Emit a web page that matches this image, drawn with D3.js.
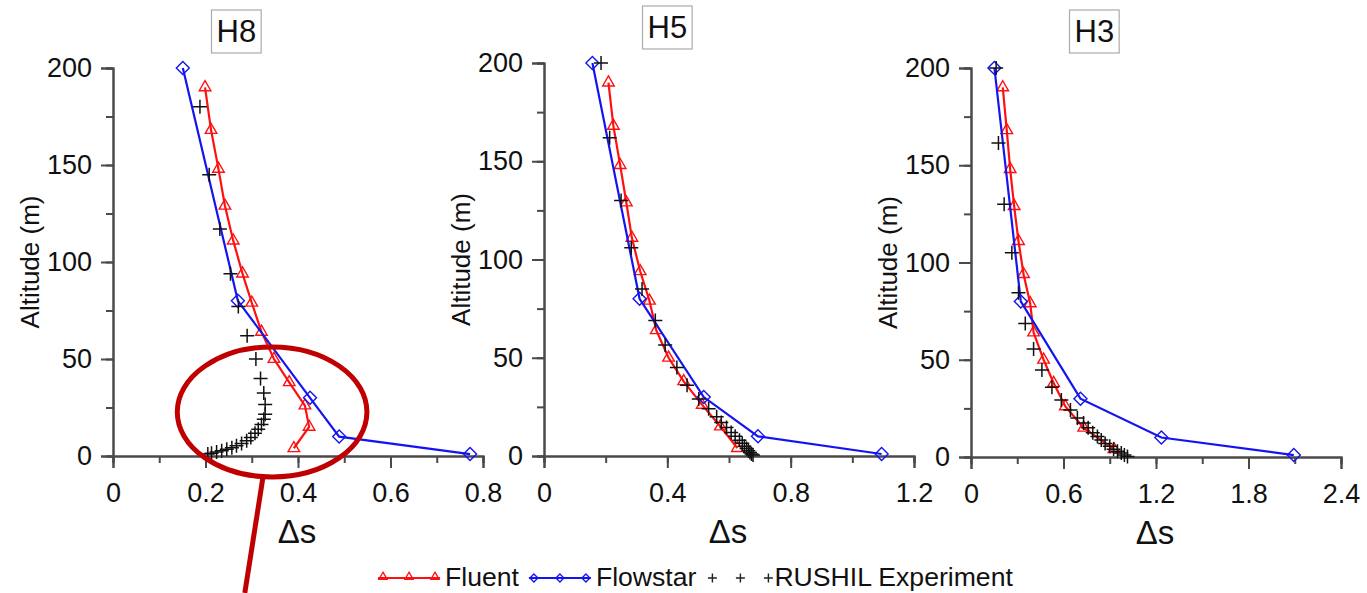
<!DOCTYPE html>
<html>
<head>
<meta charset="utf-8">
<script src="https://cdn.jsdelivr.net/npm/d3@7"></script>
<style>
  body { margin: 0; background: #fff; }
  svg { display: block; font-family: "Liberation Sans", Arial, sans-serif; }
</style>
</head>
<body>
<svg id="chart" width="1367" height="593"></svg>
<script>
// ---- data ----
const panelNames = ["H8", "H5", "H3"];
const xMax = [0.8, 1.2, 2.4];
const xMajor = [0.2, 0.4, 0.6];

// Fluent (CFD) altitudes, same for every tower
const fluentAlt = [190, 168, 148, 129, 111, 94, 79, 64, 50, 38, 26, 15, 4];
const fluentH8 = [0.199, 0.212, 0.228, 0.242, 0.26, 0.28, 0.30, 0.321, 0.348, 0.381, 0.415, 0.424, 0.391];
const fluentH5 = [0.209, 0.225, 0.247, 0.267, 0.285, 0.312, 0.342, 0.364, 0.404, 0.453, 0.513, 0.572, 0.627];
const fluentH3 = [0.206, 0.232, 0.254, 0.28, 0.308, 0.341, 0.384, 0.406, 0.471, 0.536, 0.612, 0.731, 0.927];

// Flowstar
const flowAlt = [200, 80, 30, 10, 1];
const flowH8 = [0.151, 0.27, 0.426, 0.489, 0.772];
const flowH5 = [0.157, 0.31, 0.518, 0.694, 1.095];
const flowH3 = [0.152, 0.323, 0.71, 1.235, 2.094];

// RUSHIL experiment
const expAltH8 = [180, 145, 117, 94, 77, 62, 50, 40, 32.5, 26.5, 21.5, 19, 16.3, 13.8, 11.7, 9.6, 7.9, 6.5, 5.3, 4.3, 3.5, 2.7, 2.1, 1.4, 1];
const expH8 = [0.188, 0.208, 0.231, 0.254, 0.271, 0.29, 0.309, 0.319, 0.326, 0.329, 0.329, 0.326, 0.321, 0.314, 0.307, 0.298, 0.289, 0.278, 0.267, 0.257, 0.246, 0.235, 0.224, 0.213, 0.205];
const expAltH5 = [200, 162, 130, 106, 85, 69, 56.5, 45, 36, 29, 24, 20, 17, 14.5, 12, 10, 8, 6.5, 5, 3.8, 2.7, 1.8, 1, 0.5];
const expH5 = [0.185, 0.213, 0.25, 0.283, 0.318, 0.361, 0.393, 0.431, 0.464, 0.502, 0.534, 0.56, 0.575, 0.592, 0.607, 0.62, 0.634, 0.643, 0.65, 0.657, 0.663, 0.668, 0.673, 0.678];
const expAltH3 = [200, 161.5, 130, 105, 84.5, 68.7, 55.5, 44.7, 35.8, 29.3, 24.2, 20, 17.5, 15, 12.5, 10.5, 8.7, 7, 5.5, 4, 3, 2, 1, 0.3];
const expH3 = [0.163, 0.178, 0.215, 0.265, 0.308, 0.352, 0.406, 0.46, 0.525, 0.586, 0.645, 0.69, 0.73, 0.76, 0.79, 0.82, 0.845, 0.87, 0.9, 0.925, 0.95, 0.975, 0.995, 1.015];

const legendLabels = ["Fluent", "Flowstar", "RUSHIL Experiment"];

// ---- layout ----
const PANEL_X = [113, 544, 971], PANEL_W = 370;
const PANEL_TOP = [68, 63, 68], PANEL_BOT = [456, 456, 457];
const TITLE_Y = [10, 6, 10];
const RED = "#ff1010", BLUE = "#1414f0", AXIS = "#4a4a4a", ANNOT = "#c00000";

const svg = d3.select("#chart");

const fluentX = [fluentH8, fluentH5, fluentH3];
const flowX = [flowH8, flowH5, flowH3];
const expX = [expH8, expH5, expH3];
const expAlt = [expAltH8, expAltH5, expAltH3];

const tri = d3.symbol().type(d3.symbolTriangle).size(58);
const diamond = "M0,-6.5L6.5,0L0,6.5L-6.5,0Z";
const plus = a => `M${-a},0H${a}M0,${-a}V${a}`;

let scalesH8 = null;

panelNames.forEach((name, p) =>
{
  let x = d3.scaleLinear().domain([0, xMax[p]]).range([PANEL_X[p], PANEL_X[p] + PANEL_W]);
  let y = d3.scaleLinear().domain([0, 200]).range([PANEL_BOT[p], PANEL_TOP[p]]);
  if (p === 0) scalesH8 = { x, y };
  let g = svg.append("g");

  // axes: minor ticks first, then majors with labels
  let xMinor = d3.range(0, xMax[p] + 1e-9, xMajor[p] / 2);
  let xMajorT = d3.range(0, xMax[p] + 1e-9, xMajor[p]);
  let fmt = d => d === 0 ? "0" : d3.format(".1f")(d);

  g.append("g").attr("transform", `translate(0,${y(0)})`)
      .call(d3.axisBottom(x).tickValues(xMinor).tickSize(7).tickFormat(""));
  g.append("g").attr("transform", `translate(0,${y(0)})`)
      .call(d3.axisBottom(x).tickValues(xMajorT).tickSize(12).tickPadding(15).tickFormat(fmt));
  g.append("g").attr("transform", `translate(${x(0)},0)`)
      .call(d3.axisLeft(y).tickValues(d3.range(0, 201, 25)).tickSize(7).tickFormat(""));
  g.append("g").attr("transform", `translate(${x(0)},0)`)
      .call(d3.axisLeft(y).tickValues(d3.range(0, 201, 50)).tickSize(12).tickPadding(9));

  g.selectAll(".domain").attr("stroke", AXIS).attr("stroke-width", 2);
  g.selectAll(".tick line").attr("stroke", AXIS).attr("stroke-width", 2);
  g.selectAll(".tick text").attr("font-size", 27).attr("fill", "#111")
      .attr("font-family", "Liberation Sans, Arial, sans-serif");

  // axis titles
  g.append("text")
      .attr("transform", `translate(${x(0) - 83},${(y(0) + y(200)) / 2}) rotate(-90)`)
      .attr("text-anchor", "middle").attr("dy", "0.36em")
      .attr("font-size", 26).attr("fill", "#111")
      .text("Altitude (m)");
  g.append("text")
      .attr("x", x(xMax[p] / 2) - 1).attr("y", y(0) + 87)
      .attr("text-anchor", "middle").attr("font-size", 33).attr("fill", "#111")
      .text("\u0394s");

  // title box
  let tx = x(xMax[p] / 3);
  let bg = g.append("rect");
  let tt = g.append("text").attr("x", tx).attr("y", TITLE_Y[p] + 32)
      .attr("text-anchor", "middle").attr("font-size", 31).attr("fill", "#111").text(name);
  let bw = tt.node().getComputedTextLength() + 10;
  bg.attr("x", tx - bw / 2).attr("y", TITLE_Y[p]).attr("width", bw).attr("height", 43)
      .attr("fill", "#fff").attr("stroke", "#aaa").attr("stroke-width", 1.2);

  // series
  let line = d3.line().x(d => x(d[0])).y(d => y(d[1]));
  let fl = fluentX[p].map((v, i) => [v, fluentAlt[i]]);
  let fw = flowX[p].map((v, i) => [v, flowAlt[i]]);
  let ex = expX[p].map((v, i) => [v, expAlt[p][i]]);

  g.append("path").attr("d", line(fl)).attr("fill", "none").attr("stroke", RED).attr("stroke-width", 2.2);
  g.selectAll(".tri").data(fl).enter().append("path")
      .attr("d", tri).attr("transform", d => `translate(${x(d[0])},${y(d[1])})`)
      .attr("fill", "none").attr("stroke", RED).attr("stroke-width", 1.4);

  g.append("path").attr("d", line(fw)).attr("fill", "none").attr("stroke", BLUE).attr("stroke-width", 2.2);
  g.selectAll(".dia").data(fw).enter().append("path")
      .attr("d", diamond).attr("transform", d => `translate(${x(d[0])},${y(d[1])})`)
      .attr("fill", "none").attr("stroke", BLUE).attr("stroke-width", 1.4);

  g.selectAll(".plus").data(ex).enter().append("path")
      .attr("d", plus(7)).attr("transform", d => `translate(${x(d[0])},${y(d[1])})`)
      .attr("fill", "none").attr("stroke", "#111").attr("stroke-width", 1.5);
});

// ---- annotation on H8 (ellipse + pointer line) ----
{
  let { x, y } = scalesH8;
  let cx = 0.344, cy = 22.7, rxD = 0.205, ryD = 33.5;
  svg.append("ellipse")
      .attr("cx", x(cx)).attr("cy", y(cy))
      .attr("rx", x(rxD) - x(0)).attr("ry", y(0) - y(ryD))
      .attr("fill", "none").attr("stroke", ANNOT).attr("stroke-width", 5);
  svg.append("line")
      .attr("x1", x(0.324)).attr("y1", y(-11.3))
      .attr("x2", x(0.285)).attr("y2", y(-70.6))
      .attr("stroke", ANNOT).attr("stroke-width", 5);
}

// ---- legend ----
{
  let lg = svg.append("g").attr("font-size", 26.6).attr("fill", "#111");
  let ly = 578, base = 586, cur = 378;
  const segLen = 62;

  // Fluent
  lg.append("line").attr("x1", cur).attr("x2", cur + segLen).attr("y1", ly).attr("y2", ly)
      .attr("stroke", RED).attr("stroke-width", 2.2);
  [0, 0.5, 1].forEach(f => lg.append("path")
      .attr("d", d3.symbol().type(d3.symbolTriangle).size(30))
      .attr("transform", `translate(${cur + 5 + f * (segLen - 10)},${ly - 1})`)
      .attr("fill", "none").attr("stroke", RED).attr("stroke-width", 1.3));
  cur += segLen + 5;
  let t = lg.append("text").attr("x", cur).attr("y", base).text(legendLabels[0]);
  cur += t.node().getComputedTextLength() + 10;

  // Flowstar
  lg.append("line").attr("x1", cur).attr("x2", cur + segLen).attr("y1", ly).attr("y2", ly)
      .attr("stroke", BLUE).attr("stroke-width", 2.2);
  [0, 0.5, 1].forEach(f => lg.append("path")
      .attr("d", "M0,-4L4,0L0,4L-4,0Z")
      .attr("transform", `translate(${cur + 5 + f * (segLen - 10)},${ly})`)
      .attr("fill", "none").attr("stroke", BLUE).attr("stroke-width", 1.3));
  cur += segLen + 5;
  t = lg.append("text").attr("x", cur).attr("y", base).text(legendLabels[1]);
  cur += t.node().getComputedTextLength() + 12;

  // RUSHIL
  [0, 1, 2].forEach(k => lg.append("path")
      .attr("d", plus(4.5))
      .attr("transform", `translate(${cur + 4 + k * 28},${ly})`)
      .attr("fill", "none").attr("stroke", "#222").attr("stroke-width", 1.4));
  cur += 66;
  lg.append("text").attr("x", cur).attr("y", base).text(legendLabels[2]);
}
</script>
</body>
</html>
